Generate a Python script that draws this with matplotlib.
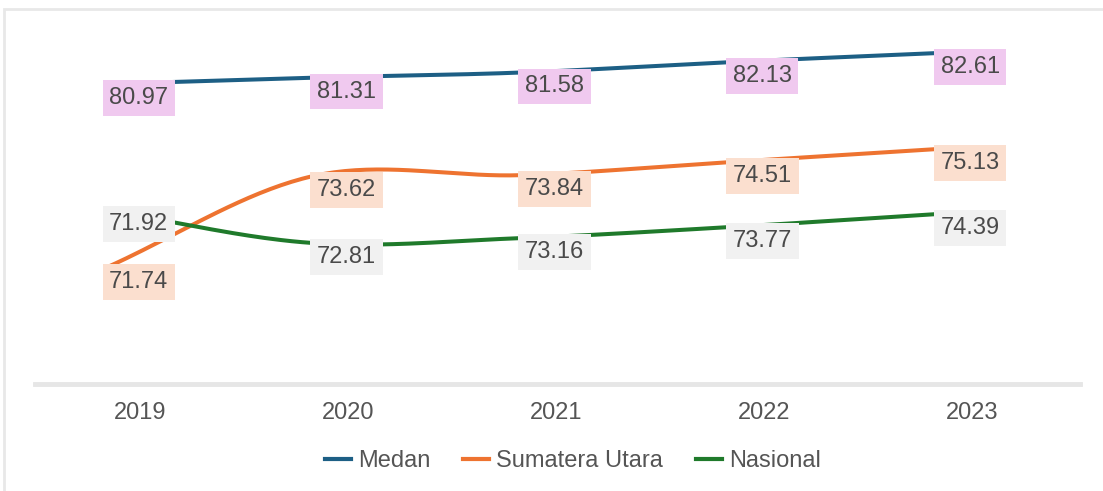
import numpy as np
import matplotlib.pyplot as plt
from matplotlib.patches import Rectangle
from matplotlib.lines import Line2D

plt.rcParams['font.family'] = ['Liberation Sans', 'DejaVu Sans']

years = ['2019', '2020', '2021', '2022', '2023']
series_names = ['Medan', 'Sumatera Utara', 'Nasional']

# printed values
medan = [80.97, 81.31, 81.58, 82.13, 82.61]
sumut = [71.74, 73.62, 73.84, 74.51, 75.13]
nasional = [71.92, 72.81, 73.16, 73.77, 74.39]

# heights of the drawn lines (they don't follow the labels exactly)
medan_line = [80.97, 81.31, 81.58, 82.13, 82.61]
sumut_line = [71.23, 76.10, 76.15, 76.84, 77.53]
nasional_line = [74.30, 72.56, 72.82, 73.40, 74.09]

line_colors = ['#1d5f85', '#ee7330', '#1f7a2b']
box_colors = ['#f0c9ef', '#fbdfcf', '#f1f1f1']
text_color = '#4a4a4a'


def smooth(y, n=40):
    # catmull-rom through evenly spaced points
    y = np.asarray(y, float)
    p = np.concatenate([[2 * y[0] - y[1]], y, [2 * y[-1] - y[-2]]])
    t = np.linspace(0, 1, n)
    h00 = 2 * t**3 - 3 * t**2 + 1
    h10 = t**3 - 2 * t**2 + t
    h01 = -2 * t**3 + 3 * t**2
    h11 = t**3 - t**2
    xs, ys = [], []
    for i in range(len(y) - 1):
        p0, p1, p2, p3 = p[i:i + 4]
        m1 = (p2 - p0) / 2
        m2 = (p3 - p1) / 2
        xs.append(i + t)
        ys.append(h00 * p1 + h10 * m1 + h01 * p2 + h11 * m2)
    return np.concatenate(xs), np.concatenate(ys)


fig = plt.figure(figsize=(11.03, 4.91), dpi=100)
ax = fig.add_axes([35 / 1103, 107 / 491, 1045 / 1103, 364 / 491])

x = np.arange(len(years))
lines = [medan_line, sumut_line, nasional_line]
labels = [medan, sumut, nasional]

for vals, col in zip(lines, line_colors):
    sx, sy = smooth(vals)
    ax.plot(sx, sy, color=col, lw=2.9, solid_capstyle='butt', zorder=2)

for vals, labs, bc in zip(lines, labels, box_colors):
    for xi, v, lab in zip(x, vals, labs):
        ax.annotate(f'{lab:.2f}', (xi, v), xytext=(3, -10), textcoords='offset points',
                    ha='left', va='center', fontsize=17, color=text_color, zorder=3,
                    bbox=dict(boxstyle='square,pad=0.28', fc=bc, ec='none'))

ax.set_xlim(-0.337, 4.69)
ax.set_ylim(65.1, 84.36)
for s in ['top', 'right', 'left']:
    ax.spines[s].set_visible(False)
ax.spines['bottom'].set_color('#e6e6e6')
ax.spines['bottom'].set_linewidth(3.5)
ax.set_yticks([])
ax.set_xticks(x + 0.17, years)
ax.tick_params(axis='x', length=0, pad=13, labelsize=17, labelcolor='#555555')

handles = [Line2D([], [], color=c, lw=3) for c in line_colors]
fig.legend(handles, series_names, loc='center', bbox_to_anchor=(573 / 1103, 1 - 461 / 491),
           ncol=3, frameon=False, fontsize=17, labelcolor='#555555',
           handlelength=1.1, handletextpad=0.3, columnspacing=1.4)

fig.patches.append(Rectangle((4 / 1103, -0.1), 1.2, 1.1 - 9 / 491, transform=fig.transFigure,
                             fill=False, ec='#e8e8e8', lw=2, zorder=0))

fig.savefig('out.png', dpi=100)
